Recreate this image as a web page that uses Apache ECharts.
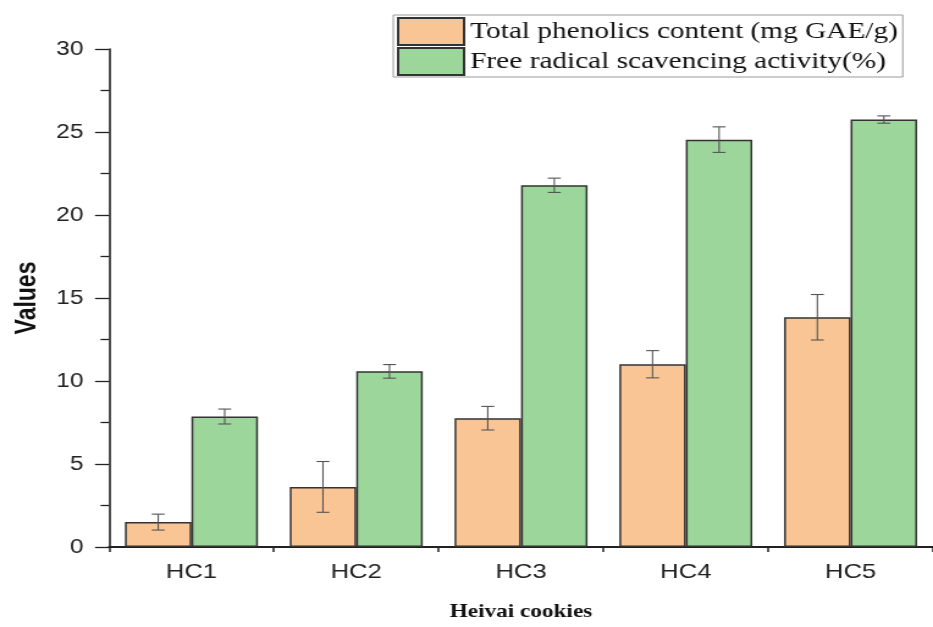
<!DOCTYPE html>
<html>
<head>
<meta charset="utf-8">
<script src="https://cdn.jsdelivr.net/npm/echarts@6/dist/echarts.min.js"></script>
<style>
html,body{margin:0;padding:0;background:#fff;overflow:hidden;width:933px;height:627px;}
#wrap{position:relative;width:933px;height:627px;overflow:hidden;}
#chart{position:absolute;left:0;top:0;width:764px;height:627px;transform:scaleX(1.2212);transform-origin:0 0;}
</style>
</head>
<body>
<div id="wrap"><div id="chart"></div></div>
<script>
const categories = ['HC1', 'HC2', 'HC3', 'HC4', 'HC5'];
const phenolics = [1.50, 3.62, 7.76, 11.01, 13.84];
const phenolicsErr = [0.48, 1.53, 0.71, 0.82, 1.37];
const scavenging = [7.86, 10.58, 21.79, 24.54, 25.75];
const scavengingErr = [0.45, 0.41, 0.43, 0.77, 0.22];
const seriesNames = ['Total phenolics content (mg GAE/g)', 'Free radical scavencing activity(%)'];
const xName = 'Heivai cookies';
const yName = 'Values';

const GAP = 0.193;
const chart = echarts.init(document.getElementById('chart'), null, {renderer: 'canvas', width: 764, height: 627});

function errRenderer(side) {
  return function (params, api) {
    const i = api.value(0), v = api.value(1), e = api.value(2);
    const c = api.coord([i, v]);
    const bandW = api.size([1, 0])[0];
    const barW = bandW * (1 - GAP) / 2;
    const x = c[0] + side * barW / 2;
    const top = api.coord([i, v + e])[1];
    const bot = api.coord([i, v - e])[1];
    const hw = 5.3;
    const st = {stroke: '#555', lineWidth: 1.1};
    return {
      type: 'group',
      children: [
        {type: 'line', shape: {x1: x, y1: top, x2: x, y2: bot}, style: st},
        {type: 'line', shape: {x1: x - hw, y1: top, x2: x + hw, y2: top}, style: st},
        {type: 'line', shape: {x1: x - hw, y1: bot, x2: x + hw, y2: bot}, style: st}
      ]
    };
  };
}

const option = {
  backgroundColor: '#fff',
  animation: false,
  grid: {left: 89.3, right: -5.7, top: 49, height: 505, containLabel: false},
  legend: {
    orient: 'vertical',
    left: 322, top: 15,
    padding: [2, 4, 1, 3],
    itemGap: 1,
    itemWidth: 54, itemHeight: 27,
    icon: 'rect',
    borderColor: '#9a9a9a', borderWidth: 1,
    backgroundColor: '#fff',
    textStyle: {fontFamily: 'Liberation Serif', fontSize: 24, color: '#111'},
    data: seriesNames
  },
  xAxis: [{
    type: 'category', position: 'bottom',
    data: categories,
    name: xName, nameLocation: 'middle', nameGap: 56,
    nameTextStyle: {fontFamily: 'Liberation Serif', fontWeight: 'bold', fontSize: 19, color: '#111'},
    axisLine: {lineStyle: {color: '#222', width: 2}},
    axisTick: {alignWithLabel: true, length: 10, lineStyle: {color: '#222', width: 1.5}},
    axisLabel: {fontFamily: 'Liberation Sans', fontSize: 21, color: '#222', margin: 15}
  }, {
    type: 'category', position: 'bottom',
    data: categories,
    axisLine: {show: false},
    axisTick: {show: true, length: 5, lineStyle: {color: '#222', width: 1.5}},
    axisLabel: {show: false}
  }],
  yAxis: {
    type: 'value', min: 0, max: 30, interval: 5,
    name: yName, nameLocation: 'middle', nameGap: 55, nameRotate: 90,
    nameTextStyle: {fontFamily: 'Liberation Sans', fontWeight: 'bold', fontSize: 23, color: '#111'},
    axisLine: {show: true, lineStyle: {color: '#222', width: 1.6}},
    axisTick: {show: true, length: 11.5, lineStyle: {color: '#222', width: 1.3}},
    minorTick: {show: true, splitNumber: 2, length: 7, lineStyle: {color: '#222', width: 1.3}},
    splitLine: {show: false},
    axisLabel: {fontFamily: 'Liberation Sans', fontSize: 20, color: '#222', margin: 21}
  },
  series: [{
    name: seriesNames[0], type: 'bar', xAxisIndex: 0,
    data: phenolics,
    barCategoryGap: (GAP * 100) + '%', barGap: '0%',
    itemStyle: {color: '#FAC594', borderColor: '#333', borderWidth: 1.5}
  }, {
    name: seriesNames[1], type: 'bar', xAxisIndex: 0,
    data: scavenging,
    barCategoryGap: (GAP * 100) + '%', barGap: '0%',
    itemStyle: {color: '#9CD69A', borderColor: '#333', borderWidth: 1.5}
  }, {
    type: 'custom', xAxisIndex: 0, z: 10,
    renderItem: errRenderer(-1),
    encode: {x: 0, y: 1},
    data: phenolics.map((v, i) => [i, v, phenolicsErr[i]])
  }, {
    type: 'custom', xAxisIndex: 0, z: 10,
    renderItem: errRenderer(1),
    encode: {x: 0, y: 1},
    data: scavenging.map((v, i) => [i, v, scavengingErr[i]])
  }]
};
chart.setOption(option);
</script>
</body>
</html>
